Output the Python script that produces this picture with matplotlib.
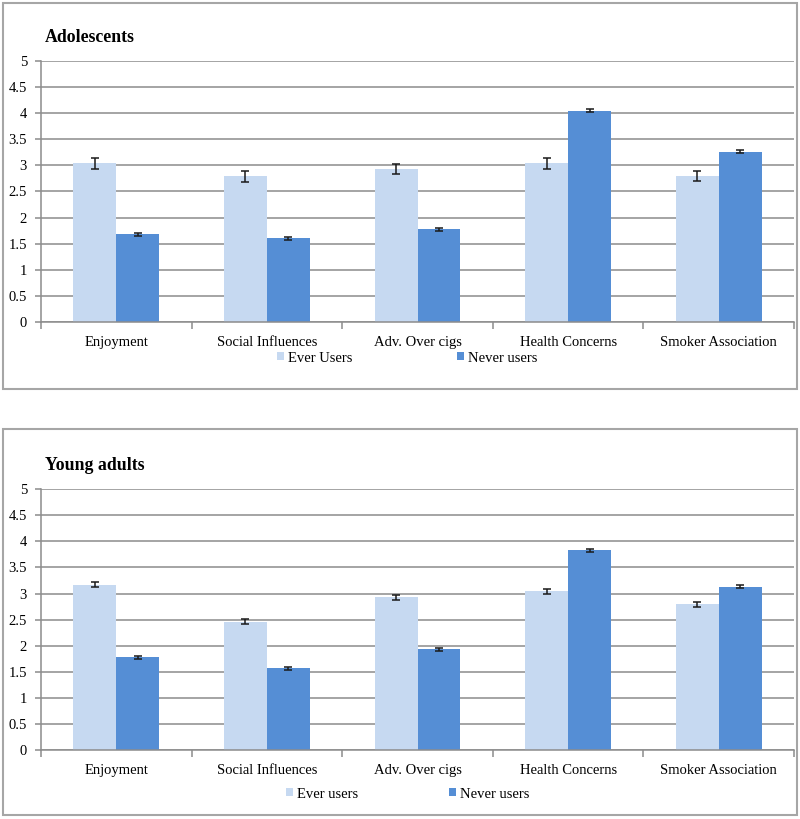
import matplotlib
matplotlib.use("Agg")
import matplotlib.pyplot as plt
from matplotlib.patches import Rectangle, Patch
import numpy as np

categories = ["Enjoyment", "Social Influences", "Adv. Over cigs", "Health Concerns", "Smoker Association"]

adol_ever = [3.04, 2.79, 2.93, 3.04, 2.80]
adol_ever_err = [0.10, 0.11, 0.10, 0.10, 0.10]
adol_never = [1.68, 1.60, 1.78, 4.05, 3.26]
adol_never_err = [0.03, 0.03, 0.03, 0.03, 0.03]

ya_ever = [3.17, 2.46, 2.93, 3.04, 2.79]
ya_ever_err = [0.05, 0.05, 0.05, 0.05, 0.05]
ya_never = [1.78, 1.57, 1.93, 3.83, 3.13]
ya_never_err = [0.03, 0.03, 0.03, 0.03, 0.03]

yticks = [0, 0.5, 1, 1.5, 2, 2.5, 3, 3.5, 4, 4.5, 5]
ytick_labels = ["0", "0.5", "1", "1.5", "2", "2.5", "3", "3.5", "4", "4.5", "5"]

panels = [
    ("Adolescents", adol_ever, adol_ever_err, adol_never, adol_never_err, ["Ever Users", "Never users"]),
    ("Young adults", ya_ever, ya_ever_err, ya_never, ya_never_err, ["Ever users", "Never users"]),
]

plt.rcParams['font.family'] = ['Liberation Serif', 'DejaVu Serif']

W, H = 800, 819
fig = plt.figure(figsize=(W / 100, H / 100), dpi=100)

C_EVER = "#C6D9F1"
C_NEVER = "#558ED5"
GRID = "#8C8C8C"

def fx(px):
    return px / W

def fy(py):
    return 1 - py / H

layouts = [
    dict(box=(3, 389), ax=(61, 322), title=38, leg=358, legx=(277, 457)),
    dict(box=(429, 815), ax=(489, 750.3), title=466, leg=794, legx=(286, 449)),
]

for (title, ev, ev_err, nv, nv_err, leg_labels), L in zip(panels, layouts):
    b0, b1 = L["box"]
    fig.patches.append(Rectangle((fx(3), fy(b1)), fx(794), (b1 - b0) / H,
                                 transform=fig.transFigure, fill=False,
                                 edgecolor="#A6A6A6", lw=1.5, zorder=0))
    a0, a1 = L["ax"]
    ax = fig.add_axes([fx(41), fy(a1), fx(753), (a1 - a0) / H])
    x = np.arange(len(categories))
    w = 0.285
    ax.bar(x - w / 2, ev, w, color=C_EVER, zorder=2)
    ax.bar(x + w / 2, nv, w, color=C_NEVER, zorder=2)
    ax.errorbar(x - w / 2, ev, yerr=ev_err, fmt="none", ecolor="#1a1a1a",
                elinewidth=1.1, capsize=3, capthick=1.1, zorder=3)
    ax.errorbar(x + w / 2, nv, yerr=nv_err, fmt="none", ecolor="#1a1a1a",
                elinewidth=1.1, capsize=3, capthick=1.1, zorder=3)
    ax.set_xlim(-0.5, len(categories) - 0.5)
    ax.set_ylim(0, 5)
    ax.set_yticks(yticks)
    ax.set_yticklabels(ytick_labels, fontsize=10.5)
    ax.yaxis.grid(True, color=GRID, lw=1.1)
    ax.set_axisbelow(True)
    ax.set_xticks(x)
    ax.set_xticklabels(categories, fontsize=10.5)
    ax.tick_params(axis="x", which="major", length=0, pad=10)
    ax.set_xticks(np.arange(len(categories) + 1) - 0.5, minor=True)
    ax.tick_params(axis="x", which="minor", length=5, color=GRID, width=1.1)
    ax.tick_params(axis="y", length=4, color=GRID, width=1.1, pad=6)
    for s in ["top", "right"]:
        ax.spines[s].set_visible(False)
    ax.spines["left"].set_color(GRID)
    ax.spines["bottom"].set_color(GRID)
    ax.spines["left"].set_linewidth(1.1)
    ax.spines["bottom"].set_linewidth(1.1)

    fig.text(fx(45), fy(L["title"]), title, fontsize=12.8, fontweight="bold",
             ha="left", va="center")

    for lab, col, lx in zip(leg_labels, [C_EVER, C_NEVER], L["legx"]):
        fig.legend(handles=[Patch(facecolor=col, edgecolor="none")], labels=[lab],
                   loc="center left", bbox_to_anchor=(fx(lx), fy(L["leg"])),
                   frameon=False, fontsize=10.5, handlelength=0.5, handleheight=0.5,
                   handletextpad=0.25, borderpad=0, borderaxespad=0)

fig.savefig("out.png", dpi=100)
